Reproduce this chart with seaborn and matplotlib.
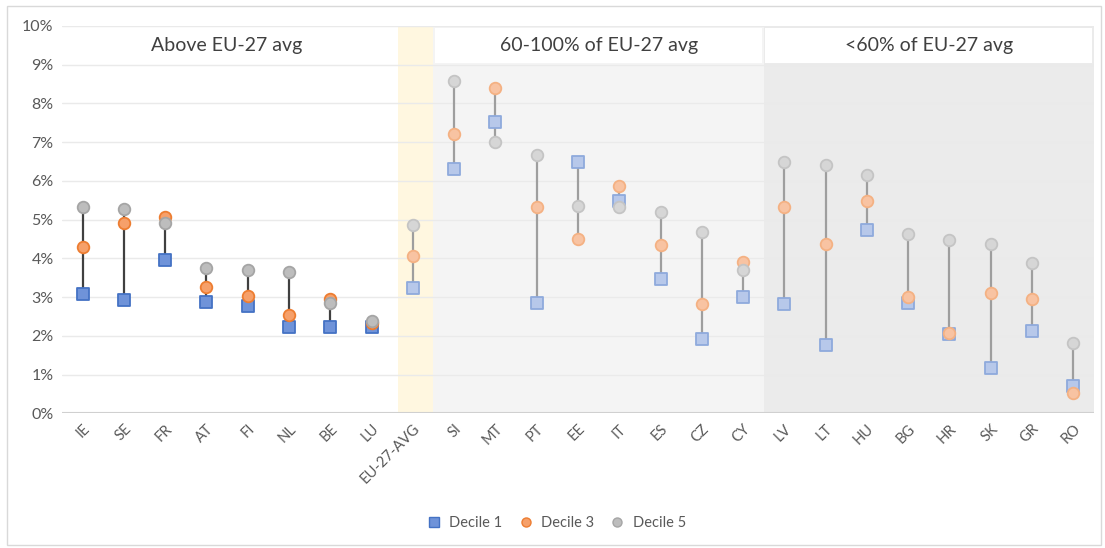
import numpy as np
import pandas as pd
import matplotlib
matplotlib.use("Agg")
import matplotlib.pyplot as plt
from matplotlib.lines import Line2D
from matplotlib.patches import Rectangle
import seaborn as sns

countries = ["IE", "SE", "FR", "AT", "FI", "NL", "BE", "LU", "EU-27-AVG",
             "SI", "MT", "PT", "EE", "IT", "ES", "CZ", "CY",
             "LV", "LT", "HU", "BG", "HR", "SK", "GR", "RO"]
decile1 = [3.07, 2.92, 3.96, 2.87, 2.76, 2.24, 2.24, 2.24, 3.24,
           6.30, 7.52, 2.85, 6.50, 5.48, 3.46, 1.92, 3.01,
           2.83, 1.76, 4.72, 2.86, 2.06, 1.17, 2.13, 0.71]
decile3 = [4.30, 4.91, 5.07, 3.26, 3.03, 2.55, 2.95, 2.33, 4.07,
           7.21, 8.39, 5.32, 4.50, 5.87, 4.35, 2.81, 3.90,
           5.32, 4.37, 5.48, 3.01, 2.07, 3.10, 2.94, 0.53]
decile5 = [5.32, 5.28, 4.91, 3.75, 3.69, 3.66, 2.84, 2.39, 4.87,
           8.57, 7.00, 6.67, 5.34, 5.32, 5.19, 4.67, 3.69,
           6.48, 6.41, 6.16, 4.62, 4.48, 4.38, 3.89, 1.81]
groups = ["above"] * 8 + ["avg"] + ["mid"] * 8 + ["low"] * 8
section_titles = ["Above EU-27 avg", "60-100% of EU-27 avg", "<60% of EU-27 avg"]
series_names = ["Decile 1", "Decile 3", "Decile 5"]

sns.set_theme(style="white")
plt.rcParams["font.family"] = ["Lato", "DejaVu Sans"]

df = pd.DataFrame({"country": countries, "pos": np.arange(len(countries)),
                   "d1": decile1, "d3": decile3, "d5": decile5, "group": groups})

fig = plt.figure(figsize=(11.05, 5.48), dpi=100)
ax = fig.add_axes([0.0561, 0.2458, 0.9339, 0.7068])
fig.patches.append(Rectangle((0.006, 0.005), 0.99, 0.984, transform=fig.transFigure,
                             fill=False, edgecolor="#D9D9D9", linewidth=1.0))

n = len(countries)
ax.set_xlim(-0.5, n - 0.5)
ax.set_ylim(0, 10)

# section backgrounds
ax.axvspan(7.63, 8.5, ymin=0, ymax=1, color="#FFF7E0", zorder=0, lw=0)
ax.axvspan(8.5, 16.5, ymin=0, ymax=1, color="#F4F4F4", zorder=0, lw=0)
ax.axvspan(16.5, 24.5, ymin=0, ymax=1, color="#EBEBEB", zorder=0, lw=0)

# gridlines
for yv in range(1, 11):
    ax.axhline(yv, color="#EAEAEA", lw=1.0, zorder=0.5)
ax.axhline(0, color="#D0D0D0", lw=1.5, zorder=1)

# header boxes
ax.add_patch(Rectangle((8.54, 9.04), 7.92, 0.9, facecolor="white", edgecolor="none", zorder=1))
ax.add_patch(Rectangle((16.54, 9.04), 7.92, 0.9, facecolor="white", edgecolor="none", zorder=1))
ax.text(3.5, 9.5, section_titles[0], ha="center", va="center", fontsize=14, color="#404040", zorder=2)
ax.text(12.5, 9.5, section_titles[1], ha="center", va="center", fontsize=14, color="#404040", zorder=2)
ax.text(20.5, 9.5, section_titles[2], ha="center", va="center", fontsize=14, color="#404040", zorder=2)

# range lines
lo = df[["d1", "d3", "d5"]].min(axis=1)
hi = df[["d1", "d3", "d5"]].max(axis=1)
strong = df["group"] == "above"
ax.vlines(df["pos"][strong], lo[strong], hi[strong], color="#404040", lw=1.6, zorder=2)
ax.vlines(df["pos"][~strong], lo[~strong], hi[~strong], color="#9E9E9E", lw=1.6, zorder=2)

styles = {
    True: {"d1": ("#6F93D9", "#4472C4"), "d3": ("#F6A06A", "#ED7D31"), "d5": ("#BDBDBD", "#A5A5A5")},
    False: {"d1": ("#B7C8EA", "#8FAADC"), "d3": ("#F8C3A2", "#F4B183"), "d5": ("#D6D6D6", "#C4C4C4")},
}
markers = {"d1": "s", "d3": "o", "d5": "o"}
sizes = {"d1": 80, "d3": 70, "d5": 70}
for z, key in enumerate(["d1", "d3", "d5"]):
    for flag in [True, False]:
        sub = df[strong == flag]
        fc, ec = styles[flag][key]
        sns.scatterplot(data=sub, x="pos", y=key, ax=ax, marker=markers[key], s=sizes[key],
                        color=fc, edgecolor=ec, linewidth=1.3, zorder=3 + z, legend=False)

ax.set_xticks(np.arange(n))
ax.set_xticklabels(countries, rotation=45, ha="right", rotation_mode="anchor",
                   fontsize=10.5, color="#595959")
ax.set_yticks(range(0, 11))
ax.set_yticklabels([f"{v}%" for v in range(0, 11)], fontsize=11.5, color="#595959")
ax.tick_params(axis="both", length=0, pad=6)
ax.set_xlabel("")
ax.set_ylabel("")
for sp in ax.spines.values():
    sp.set_visible(False)

handles = [
    Line2D([], [], marker="s", ls="none", markerfacecolor="#6F93D9", markeredgecolor="#4472C4", markersize=6.5),
    Line2D([], [], marker="o", ls="none", markerfacecolor="#F6A06A", markeredgecolor="#ED7D31", markersize=6.5),
    Line2D([], [], marker="o", ls="none", markerfacecolor="#BDBDBD", markeredgecolor="#A5A5A5", markersize=6.5),
]
fig.legend(handles, series_names, loc="center", bbox_to_anchor=(0.5, 0.045), ncol=3,
           frameon=False, fontsize=10.5, handletextpad=0.05, columnspacing=0.6,
           labelcolor="#595959")

fig.savefig("out.png", dpi=100)
